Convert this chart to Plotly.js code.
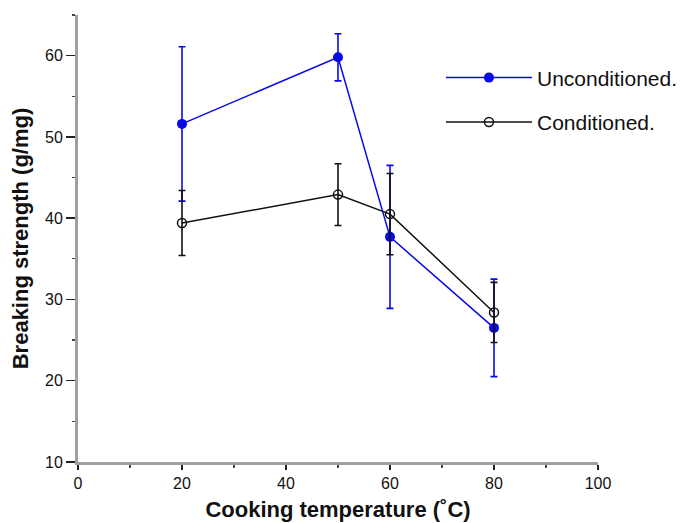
<!DOCTYPE html>
<html>
<head>
<meta charset="utf-8">
<script src="https://cdn.plot.ly/plotly-3.0.1.min.js"></script>
<style>html,body{margin:0;padding:0;background:#fff;}#chart{width:686px;height:523px;}</style>
</head>
<body>
<div id="chart"></div>
<script>
var temperatures = [20, 50, 60, 80];
var unconditioned = [51.6, 59.8, 37.7, 26.5];
var unconditionedErr = [9.5, 2.9, 8.8, 6.0];
var conditioned = [39.4, 42.9, 40.5, 28.4];
var conditionedErr = [4.0, 3.8, 5.0, 3.7];
var seriesNames = ['Unconditioned.', 'Conditioned.'];

var blue = '#0a0ae6';
var font = 'Liberation Sans, Arial, Helvetica, sans-serif';

var traces = [
  {
    x: temperatures, y: unconditioned, name: seriesNames[0], legendgroup: 'a',
    type: 'scatter', mode: 'lines+markers',
    line: {color: blue, width: 1.5},
    marker: {color: blue, size: 10, symbol: 'circle'},
    error_y: {type: 'data', array: unconditionedErr, visible: true, color: blue, thickness: 1.6, width: 3.5}
  },
  {
    x: temperatures, y: conditioned, name: seriesNames[1], legendgroup: 'b',
    type: 'scatter', mode: 'lines+markers',
    line: {color: '#111', width: 1.5},
    marker: {color: 'rgba(255,255,255,0)', size: 9, symbol: 'circle', line: {color: '#111', width: 1.5}},
    error_y: {type: 'data', array: conditionedErr, visible: true, color: '#111', thickness: 1.6, width: 3.5}
  }
];

var layout = {
  width: 686, height: 523,
  margin: {l: 78, r: 88, t: 15, b: 61, autoexpand: false},
  paper_bgcolor: '#fff', plot_bgcolor: '#fff',
  font: {family: font, color: '#111', size: 16},
  showlegend: true,
  legend: {
    x: 0.698, y: 0.905, xanchor: 'left', yanchor: 'top',
    font: {family: font, size: 21, color: '#111'},
    itemwidth: 86,
    bgcolor: 'rgba(0,0,0,0)', tracegroupgap: 14, traceorder: 'grouped'
  },
  xaxis: {
    range: [0, 100], dtick: 20, tick0: 0,
    showline: true, linecolor: '#a0a0a0', linewidth: 3,
    ticks: 'outside', ticklen: 5, tickwidth: 1.5, tickcolor: '#222',
    minor: {dtick: 10, ticks: 'outside', ticklen: 3, tickwidth: 1.2, tickcolor: '#444'},
    showgrid: false, zeroline: false,
    tickfont: {family: font, size: 16, color: '#111'},
    title: {text: 'Cooking temperature (˚C)', font: {family: font, size: 22, weight: 700, color: '#111'}, standoff: 11}
  },
  yaxis: {
    range: [10, 65], dtick: 10, tick0: 10,
    showline: true, linecolor: '#a0a0a0', linewidth: 3,
    ticks: 'outside', ticklen: 9, tickwidth: 1.5, tickcolor: '#222',
    minor: {dtick: 5, ticks: 'outside', ticklen: 3, tickwidth: 1.2, tickcolor: '#444'},
    showgrid: false, zeroline: false,
    tickfont: {family: font, size: 16, color: '#111'},
    title: {text: 'Breaking strength (g/mg)', font: {family: font, size: 22, weight: 700, color: '#111'}, standoff: 11}
  }
};

Plotly.newPlot('chart', traces, layout, {displayModeBar: false, staticPlot: true});
</script>
</body>
</html>
